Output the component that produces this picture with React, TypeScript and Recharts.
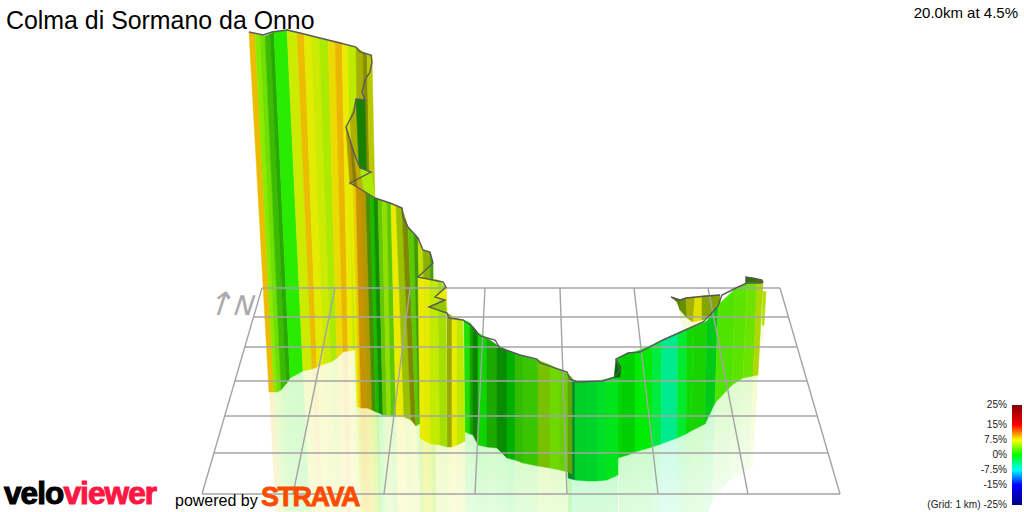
import React from "react";
import { ComposedChart, Area, Line, XAxis, YAxis } from "recharts";

type Row = [number, number, number, number, number, number];

const title = "Colma di Sormano da Onno";
const headline = "20.0km at 4.5%";

// Each row is one station of the projected ribbon:
// top x, top y, base x, base y, gradient % of the strip that follows, facing (light) of that strip
const backWall: Row[] = [
  [249,32,269,392,9,1],[255,34,274,392,4.4,1],[260,35,277,392,3.8,0.95],[265,36,281,390,2.4,0.8],
  [270,34,286,384,1.8,0.72],[274,32,290,378,1.3,1],[287,30,303,371,6.5,1],[297,32,312,369,9,1],
  [304,34,317,367,7.2,1],[311,36,324,364,6.5,1],[319,38,331,362,5.5,1],[328,40,337,358,8,1],
  [335,41,343,352,9.2,1],[342,43,348,351,7.5,1],[348,45,353,350,6,1],[356,47,360,350,7,0.75],
  [363,52,368,350,7,0.6],[367,54,373,350,7,0.85],[372,55,378,350,7,0.85],
];
const foldFar: Row[] = [
  [346,127,350,183,7,0.95],[350,119,354,186,7.3,0.75],[356,99,360,190,1.5,0.55],[365,100,367,194,7,0.85],
];
const foldNear: Row[] = [
  [346,127,350,185,8.5,0.75],[350,140,354,188,8.5,0.6],[354,153,358,190,8,0.8],[360,168,364,193,5.5,1],[371,172,375,198,5,1],
];
const wallA: Row[] = [
  [350,183,357,407,7.5,1],[353,185,359,407,8.5,1],[356,187,361,408,9.5,0.85],[362,191,367,408,8.5,0.75],
  [366,193,372,410,4,0.6],[370,196,376,412,0.9,0.8],[374,198,379,413,1,0.6],[378,199,383,415,3.8,0.85],
  [382,201,387,415,4.8,0.95],[387,202,391,416,3.5,0.85],[391,203,396,416,7.5,1],[396,205,404,417,6,0.82],
  [402,208,411,420,7,0.58],[408,227,416,426,3.5,0.85],[414,234,419,424,3,0.65],[418,238,422,424,6.5,0.95],
  [423,250,426,424,6,0.75],[430,252,432,424,3,0.7],[433,263,435,424,3,0.7],
];
const wallB: Row[] = [
  [418,277,420,438,7.5,1],[424,278,425,441,7.2,1],[430,279,431,444,6.2,1],[438,280,440,445,5.5,0.95],[446,287,447,447,5,1],
];
const wallC: Row[] = [
  [447,313,447,447,6.8,0.72],[452,316,452,447,7.5,1],[457,318,457,445,6,1],[463,320,465,441,6,1],
];
const wallD: Row[] = [
  [464,320,465,432,1,0.95],[470,323,470,434,1,0.7],[473,327,473,435,0.8,0.55],[478,333,478,445,0.5,0.9],
  [487,338,487,447,1.2,0.72],[497,345,497,448,0.5,0.6],[507,350,507,458,0,0.75],[515,353,515,460,2,0.8],
  [523,356,523,463,2.2,0.84],[538,360,538,466,4.7,0.82],[550,365,550,468,3.8,0.92],[560,370,560,470,3.8,0.88],
  [568,374,568,472,4.5,0.7],[572,378,572,474,4.5,0.7],
];
const wallE: Row[] = [
  [568,376,568,478,-2.5,0.6],[575,381,575,480,-1.5,0.88],[587,382,587,481,-1.5,0.9],[597,381,597,481,-1.2,0.95],
  [607,379,607,480,-0.9,0.97],[618,376,618,475,-0.9,0.97],
];
const wallF: Row[] = [
  [616,359,618,458,0,0.92],[620,357,621,457,0,0.88],[628,353,628,455,0,0.88],[635,352,635,452,-0.1,1],
  [652,345,652,447,-2,1],[662,340,661,444,-4.5,1],[678,333,677,438,-1.5,1],[687,329,686,434,0.5,0.92],
  [693,327,691,431,0.8,0.9],[707,321,705,424,-0.9,0.86],[718,305,715,403,2.6,0.97],[735,289,732,385,3,0.97],
  [747,283,743,378,3.6,0.97],[757,283,753,376,6,0.92],[763,283,758,375,6,0.92],
];
const farWall: Row[] = [
  [671,297,677,302,5,0.55],[680,300,680,310,5.5,0.6],[686,298,687,318,7,0.75],[695,297,693,322,7.5,0.95],
  [702,296,702,320,6,0.7],[720,295,720,312,6,0.7],
];
const topLoop: Row[] = [[746,277,746,284,3,0.5],[755,278,755,284,4,0.5],[762,280,762,284,4,0.5]];
const sideSliver: Row[] = [[763,291,762,325,6,0.95],[766,292,764,325,6,0.95]];

const foldTriangles: { grade: number; light: number; pts: [number, number][] }[] = [
  { grade: 7.5, light: 1, pts: [[446,287],[435,297],[445,300],[447,310]] },
  { grade: 5.5, light: 0.85, pts: [[445,300],[429,307],[447,313]] },
  { grade: 0, light: 0.45, pts: [[616,359],[621,367],[620,377],[614,378]] },
];

const sections: Row[][] = [farWall, topLoop, sideSliver, wallF, wallE, backWall, foldFar, foldNear, wallA, wallD, wallC, wallB];

const ridge: [number, number][] = [
  [249,32],[263,35],[272,32],[287,30],[300,33],[320,38],[340,43],[356,47],[360,52],[371,55],[372,62],[370,72],[365,80],[362,92],[365,100],
  [356,99],[354,112],[346,127],[350,140],[354,153],[360,168],[371,172],[350,183],[357,187],[375,198],[390,203],[402,208],[403,217],[408,227],
  [418,238],[423,250],[430,252],[433,263],[418,277],[443,282],[446,287],[435,297],[445,300],[429,307],[447,313],[449,318],[463,320],[473,327],
  [480,336],[495,340],[500,348],[520,355],[537,359],[540,363],[567,372],[570,379],[577,382],[603,381],[615,377],[620,370],[617,362],[616,359],
  [628,353],[640,352],[663,340],[683,331],[703,322],[710,315],[718,306],[722,295],[738,287],[747,283],[762,283],
];
const ridgeFar: [number, number][] = [[671,297],[680,300],[686,298],[707,296],[720,295]];
const ridgeLoop: [number, number][] = [[746,283],[746,277],[762,280],[763,283]];

const gridRowY = [288, 317, 347, 381, 416, 453, 494];
const gridFarX = [262, 335, 410, 485, 560, 634, 708, 780];
const gridNearX = [202, 293, 384, 475, 567, 658, 748, 840];

const scaleTicks: [string, number][] = [["25%",25],["15%",15],["7.5%",7.5],["0%",0],["-7.5%",-7.5],["-15%",-15],["(Grid: 1 km) -25%",-25]];

const FONT = '"Liberation Sans", Arial, sans-serif';

function gradeRgb(g: number): [number, number, number] {
  const top = 235;
  if (g >= 7.5) return [top, Math.max(0, top * (1 - (g - 7.5) / 7.5)), 0];
  if (g >= 0) return [top * (g / 7.5), top, 0];
  if (g >= -7.5) return [0, top, top * (-g / 7.5)];
  return [0, Math.max(0, top * (1 + (g + 7.5) / 7.5)), top];
}
function colour(g: number, light: number) {
  const [r, gg, b] = gradeRgb(g);
  return `rgb(${Math.round(r * light)},${Math.round(gg * light)},${Math.round(b * light)})`;
}
const pt = ([x, y]: [number, number]) => ({ x, y });
function closed(pts: [number, number][]) {
  return [...pts, pts[0]].map(pt);
}

const strips = sections.flatMap((rows) =>
  rows.slice(0, -1).map((a, i) => {
    const b = rows[i + 1];
    return {
      fill: colour(a[4], a[5]),
      pale: colour(a[4], 1),
      face: closed([[a[0], a[1]], [b[0], b[1]], [b[2], b[3]], [a[2], a[3]]]),
      mirror: closed([
        [a[2], a[3]], [b[2], b[3]],
        [2 * b[2] - b[0], 2 * b[3] - b[1]], [2 * a[2] - a[0], 2 * a[3] - a[1]],
      ]),
    };
  })
);
const folds = foldTriangles.map((t) => ({ fill: colour(t.grade, t.light), face: closed(t.pts) }));

const Poly = (data: { x: number; y: number }[], fill: string, key: string, stroke = true, opacity = 1) => (
  <Area
    key={key}
    data={data}
    dataKey="y"
    type="linear"
    baseValue={data[0].y}
    fill={fill}
    fillOpacity={opacity}
    stroke={stroke ? fill : "none"}
    strokeWidth={stroke ? 0.5 : 0}
    dot={false}
    activeDot={false}
    legendType="none"
    isAnimationActive={false}
  />
);
const Wire = (data: { x: number; y: number }[], stroke: string, width: number, key: string) => (
  <Line
    key={key}
    data={data}
    dataKey="y"
    type="linear"
    stroke={stroke}
    strokeWidth={width}
    dot={false}
    activeDot={false}
    legendType="none"
    isAnimationActive={false}
  />
);

const leftEdge = (y: number) => 202 + ((494 - y) * (262 - 202)) / (494 - 288);
const rightEdge = (y: number) => 840 - ((494 - y) * (840 - 780)) / (494 - 288);

export default function App() {
  return (
    <div style={{ position: "absolute", left: 0, top: 0, width: 1024, height: 512, overflow: "hidden", background: "#fff", fontFamily: FONT }}>
      <ComposedChart width={1024} height={512} margin={{ top: 0, right: 0, bottom: 0, left: 0 }}>
        <defs>
          {strips.map((s, i) => (
            <linearGradient key={i} id={`fade${i}`} x1="0" y1="0" x2="0" y2="1">
              <stop offset="0" stopColor={s.pale} stopOpacity={0.2} />
              <stop offset="1" stopColor={s.pale} stopOpacity={0.07} />
            </linearGradient>
          ))}
        </defs>
        <XAxis type="number" dataKey="x" domain={[0, 1024]} hide allowDataOverflow />
        <YAxis type="number" domain={[0, 512]} reversed hide allowDataOverflow />
        {strips.map((s, i) => Poly(s.mirror, `url(#fade${i})`, `m${i}`, false))}
        {gridRowY.map((y, i) => Wire([{ x: leftEdge(y), y }, { x: rightEdge(y), y }], "#a4a4a4", 1.4, `r${i}`))}
        {gridFarX.map((x, i) => Wire([{ x, y: gridRowY[0] }, { x: gridNearX[i], y: gridRowY[6] }], "#a4a4a4", 1.4, `c${i}`))}
        {strips.map((s, i) => Poly(s.face, s.fill, `s${i}`))}
        {folds.map((f, i) => Poly(f.face, f.fill, `f${i}`))}
        {Wire(ridgeFar.map(pt), "#555", 1.4, "far")}
        {Wire(ridgeLoop.map(pt), "#555", 1.4, "loop")}
        {Wire(ridge.map(pt), "#5a5a5a", 1.4, "ridge")}
      </ComposedChart>

      <div style={{ position: "absolute", left: 6, top: 6, fontSize: 24.9, lineHeight: "28px", color: "#000", whiteSpace: "nowrap" }}>{title}</div>
      <div style={{ position: "absolute", right: 6, top: 4, fontSize: 15, lineHeight: "18px", color: "#000", whiteSpace: "nowrap" }}>{headline}</div>

      <div style={{ position: "absolute", left: 208, top: 289, fontSize: 27, lineHeight: "30px", color: "#aaa", whiteSpace: "nowrap", transform: "skewX(-18deg)", fontFamily: '"DejaVu Sans", sans-serif' }}>
        <span style={{ fontSize: 32 }}>↑</span>N
      </div>

      <div style={{ position: "absolute", left: 1012, top: 405, width: 10, height: 100, background: "linear-gradient(to bottom,#800000 0%,#ff0000 20%,#ffff00 35%,#00ff00 50%,#00ffff 65%,#0000ff 80%,#000080 100%)" }} />
      {scaleTicks.map(([label, g]) => (
        <div key={label} style={{ position: "absolute", right: 17, top: 455 - 2 * g - 7, fontSize: 10.1, lineHeight: "14px", color: "#222", whiteSpace: "nowrap" }}>{label}</div>
      ))}

      <div style={{ position: "absolute", left: 4, top: 476, fontSize: 31.5, lineHeight: "34px", fontWeight: 700, letterSpacing: -0.9, whiteSpace: "nowrap", WebkitTextStroke: "1.1px currentColor" }}>
        <span style={{ color: "#000" }}>velo</span>
        <span style={{ color: "#ff1744" }}>viewer</span>
      </div>
      <div style={{ position: "absolute", left: 175, top: 492, fontSize: 16, lineHeight: "18px", color: "#000", whiteSpace: "nowrap" }}>powered by</div>
      <div style={{ position: "absolute", left: 261, top: 482, fontSize: 27, lineHeight: "30px", fontWeight: 700, letterSpacing: -1.5, color: "#fc4c02", whiteSpace: "nowrap", WebkitTextStroke: "0.8px #fc4c02" }}>STRAVA</div>
    </div>
  );
}
